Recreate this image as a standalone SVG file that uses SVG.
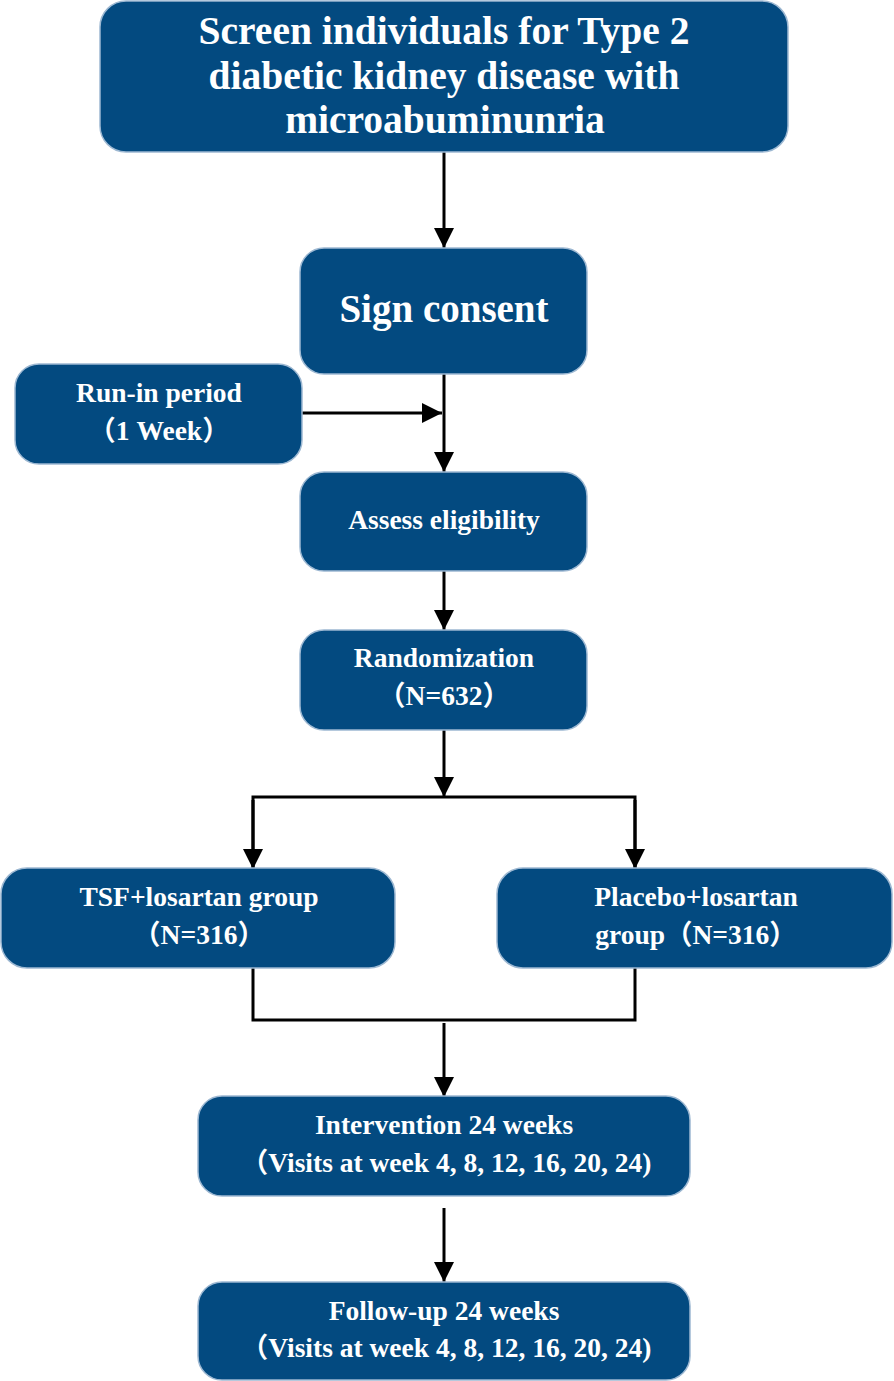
<svg xmlns="http://www.w3.org/2000/svg" width="894" height="1381" viewBox="0 0 894 1381">
<defs>
<style>
.box{fill:#034a80;stroke:#9db8d2;stroke-width:1.5}
.t{fill:#ffffff;font-family:"Liberation Serif","Noto Sans CJK SC",serif;font-weight:bold;text-anchor:middle}
.big{font-size:39.5px}
.mid{font-size:27.5px}
.ln{fill:none;stroke:#000;stroke-width:3}
</style>
<marker id="ah" markerUnits="userSpaceOnUse" viewBox="0 0 20 20" refX="20" refY="10" markerWidth="20" markerHeight="20" orient="auto">
<path d="M0,0 L20,10 L0,20 z" fill="#000"/>
</marker>
</defs>
<rect width="894" height="1381" fill="#ffffff"/>
<g id="connectors">
<line class="ln" x1="444" y1="152" x2="444" y2="248" marker-end="url(#ah)"/>
<line class="ln" x1="302" y1="413" x2="442" y2="413" marker-end="url(#ah)"/>
<line class="ln" x1="444" y1="374" x2="444" y2="472" marker-end="url(#ah)"/>
<line class="ln" x1="444" y1="571" x2="444" y2="630" marker-end="url(#ah)"/>
<line class="ln" x1="444" y1="730" x2="444" y2="797" marker-end="url(#ah)"/>
<polyline class="ln" points="253,868 253,797 635,797 635,868"/>
<line class="ln" x1="253" y1="800" x2="253" y2="869" marker-end="url(#ah)"/>
<line class="ln" x1="635" y1="800" x2="635" y2="869" marker-end="url(#ah)"/>
<polyline class="ln" points="253,968 253,1020 635,1020 635,968"/>
<line class="ln" x1="444" y1="1023" x2="444" y2="1097" marker-end="url(#ah)"/>
<line class="ln" x1="444" y1="1208" x2="444" y2="1282" marker-end="url(#ah)"/>
</g>
<g id="screen">
<rect class="box" x="100" y="1" width="688" height="151" rx="26"/>
<text class="t big" x="444" y="44">Screen individuals for Type 2</text>
<text class="t big" x="444" y="89">diabetic kidney disease with</text>
<text class="t big" x="445" y="133">microabuminunria</text>
</g>
<g id="consent">
<rect class="box" x="300" y="248" width="287" height="126" rx="24"/>
<text class="t" style="font-size:39px" x="444" y="322">Sign consent</text>
</g>
<g id="runin">
<rect class="box" x="15" y="364" width="287" height="100" rx="24"/>
<text class="t mid" x="159" y="402">Run-in period</text>
<text class="t mid" x="159" y="440">（1 Week）</text>
</g>
<g id="assess">
<rect class="box" x="300" y="472" width="287" height="99" rx="24"/>
<text class="t mid" x="444" y="529">Assess eligibility</text>
</g>
<g id="random">
<rect class="box" x="300" y="630" width="287" height="100" rx="24"/>
<text class="t mid" x="444" y="667">Randomization</text>
<text class="t mid" x="444" y="705">（N=632）</text>
</g>
<g id="tsf">
<rect class="box" x="1" y="868" width="394" height="100" rx="26"/>
<text class="t mid" x="199" y="906">TSF+losartan group</text>
<text class="t mid" x="199" y="944">（N=316）</text>
</g>
<g id="placebo">
<rect class="box" x="497" y="868" width="395" height="100" rx="26"/>
<text class="t mid" x="696" y="906">Placebo+losartan</text>
<text class="t mid" x="696" y="944">group（N=316）</text>
</g>
<g id="intervention">
<rect class="box" x="198" y="1096" width="492" height="100" rx="24"/>
<text class="t mid" x="444" y="1134">Intervention 24 weeks</text>
<text class="t mid" x="446" y="1172">（Visits at week 4, 8, 12, 16, 20, 24)</text>
</g>
<g id="followup">
<rect class="box" x="198" y="1282" width="492" height="98" rx="24"/>
<text class="t mid" x="444" y="1320">Follow-up 24 weeks</text>
<text class="t mid" x="446" y="1357">（Visits at week 4, 8, 12, 16, 20, 24)</text>
</g>
</svg>
